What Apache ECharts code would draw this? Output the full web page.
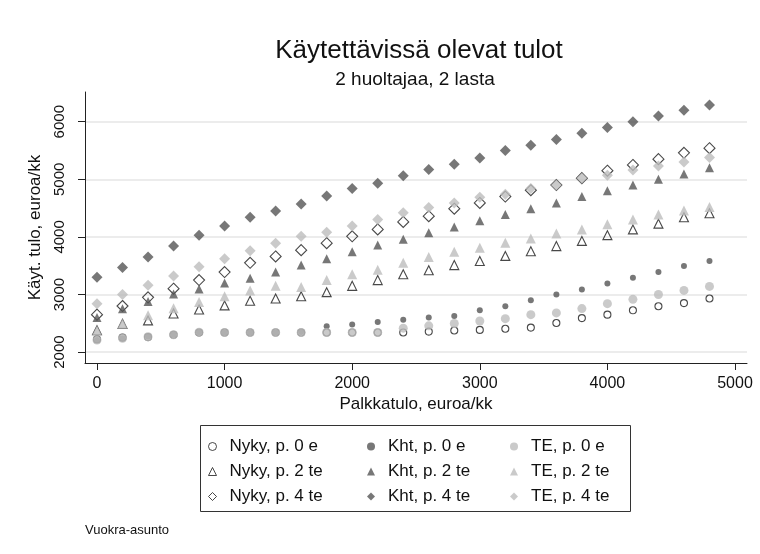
<!DOCTYPE html>
<html>
<head>
<meta charset="utf-8">
<title>Käytettävissä olevat tulot</title>
<script src="https://cdn.jsdelivr.net/npm/echarts@6/dist/echarts.min.js"></script>
<style>
  html, body { margin: 0; padding: 0; background: #fff; }
  #chart { width: 760px; height: 554px; }
</style>
</head>
<body>
<div id="chart"></div>
<script>
  // palkkatulo (x) ja käytettävissä olevat tulot eri tapauksissa
  const palkka = [0, 200, 400, 600, 800, 1000, 1200, 1400, 1600, 1800, 2000, 2200, 2400,
    2600, 2800, 3000, 3200, 3400, 3600, 3800, 4000, 4200, 4400, 4600, 4800];

  const nykyP0 = [2220, 2250, 2260, 2300, 2340, 2340, 2340, 2340, 2340, 2340, 2340, 2340, 2340,
    2355, 2375, 2385, 2405, 2425, 2505, 2590, 2650, 2725, 2795, 2850, 2930];
  const nykyP2 = [2380, 2490, 2550, 2670, 2740, 2810, 2890, 2930, 2970, 3040, 3150, 3250, 3350,
    3420, 3510, 3580, 3670, 3750, 3840, 3930, 4030, 4130, 4230, 4340, 4410];
  const nykyP4 = [2650, 2800, 2950, 3100, 3250, 3390, 3550, 3660, 3770, 3890, 4010, 4130, 4260,
    4360, 4490, 4590, 4700, 4810, 4900, 5020, 5150, 5250, 5350, 5460, 5540];

  const khtP0 = [2210, 2240, 2265, 2300, 2345, 2340, 2340, 2340, 2350, 2450, 2480, 2520, 2563,
    2600, 2625, 2725, 2795, 2900, 3000, 3085, 3190, 3290, 3390, 3495, 3580];
  const khtP2 = [2600, 2750, 2880, 3010, 3095, 3200, 3280, 3390, 3510, 3620, 3740, 3860, 3960,
    4070, 4170, 4280, 4390, 4490, 4590, 4700, 4800, 4900, 5000, 5090, 5200];
  const khtP4 = [3300, 3470, 3650, 3840, 4030, 4190, 4340, 4450, 4570, 4710, 4840, 4930, 5060,
    5170, 5260, 5370, 5500, 5590, 5690, 5800, 5900, 6000, 6100, 6200, 6290];

  const teP0 = [2210, 2240, 2265, 2300, 2345, 2340, 2340, 2340, 2340, 2340, 2340, 2340, 2415,
    2455, 2495, 2540, 2580, 2650, 2680, 2755, 2840, 2915, 3000, 3070, 3140];
  const teP2 = [2375, 2490, 2640, 2760, 2870, 2970, 3070, 3150, 3130, 3250, 3350, 3430, 3550,
    3650, 3740, 3810, 3900, 3970, 4060, 4130, 4220, 4300, 4390, 4460, 4520];
  const teP4 = [2840, 3000, 3160, 3320, 3480, 3620, 3760, 3890, 4010, 4080, 4190, 4300, 4420,
    4510, 4590, 4690, 4740, 4840, 4900, 5020, 5070, 5160, 5230, 5300, 5380];

  const xTicks = [0, 1000, 2000, 3000, 4000, 5000];
  const yTicks = [2000, 3000, 4000, 5000, 6000];

  const font = '"Liberation Sans", Arial, sans-serif';
  const ink = '#111';
  const dark = '#555555';
  const light = '#bdbdbd';

  const hollow = { color: 'rgba(0,0,0,0)', borderColor: '#1a1a1a', borderWidth: 1.1 };

  const pts = (vals) => palkka.map((x, i) => [x, vals[i]]);

  const makeSeries = (name, vals, symbol, size, itemStyle) => ({
    name: name,
    type: 'scatter',
    data: pts(vals),
    symbol: symbol,
    symbolSize: size,
    itemStyle: itemStyle,
    emphasis: { disabled: true },
    silent: true
  });

  const legendBase = {
    orient: 'vertical',
    top: 437,
    padding: 0,
    itemWidth: 8,
    itemHeight: 8,
    itemGap: 6,
    selectedMode: false,
    itemStyle: { borderWidth: 1 },
    textStyle: { fontSize: 17, color: ink, fontFamily: font, lineHeight: 19, padding: [0, 0, 0, 8] }
  };

  const myChart = echarts.init(document.getElementById('chart'));

  const option = {
    animation: false,
    backgroundColor: '#fff',
    title: [
      {
        text: 'Käytettävissä olevat tulot',
        left: 414, top: 33, textAlign: 'center',
        textStyle: { fontSize: 26, fontWeight: 'normal', color: ink, fontFamily: font }
      },
      {
        text: '2 huoltajaa, 2 lasta',
        left: 410, top: 65, textAlign: 'center',
        textStyle: { fontSize: 19, fontWeight: 'normal', color: ink, fontFamily: font }
      }
    ],
    grid: { left: 85, right: 13, top: 92, bottom: 191, containLabel: false },
    xAxis: {
      type: 'value',
      min: -94, max: 5094,
      name: 'Palkkatulo, euroa/kk',
      nameLocation: 'middle',
      nameGap: 33,
      nameTextStyle: { fontSize: 17, color: ink, fontFamily: font },
      axisLine: { show: true, onZero: false, lineStyle: { color: '#222', width: 1 } },
      axisTick: { show: true, length: 7, customValues: xTicks, lineStyle: { color: '#222' } },
      axisLabel: {
        customValues: xTicks, fontSize: 16, color: ink, fontFamily: font, margin: 13,
        formatter: (v) => String(v)
      },
      splitLine: { show: false }
    },
    yAxis: {
      type: 'value',
      min: 1810, max: 6516,
      name: 'Käyt. tulo, euroa/kk',
      nameLocation: 'middle',
      nameGap: 37,
      nameTextStyle: { fontSize: 17, color: ink, fontFamily: font },
      axisLine: { show: true, onZero: false, lineStyle: { color: '#222', width: 1 } },
      axisTick: { show: true, length: 7, customValues: yTicks, lineStyle: { color: '#222' } },
      axisLabel: {
        customValues: yTicks, rotate: 90, fontSize: 15, color: ink, fontFamily: font, margin: 18,
        formatter: (v) => String(v)
      },
      splitLine: { show: true, lineStyle: { color: '#e6e6e6', width: 1.5 } }
    },
    legend: [
      Object.assign({}, legendBase, { left: 208, data: ['Nyky, p. 0 e', 'Nyky, p. 2 te', 'Nyky, p. 4 te'] }),
      Object.assign({}, legendBase, { left: 367, data: ['Kht, p. 0 e', 'Kht, p. 2 te', 'Kht, p. 4 te'] }),
      Object.assign({}, legendBase, { left: 510, data: ['TE, p. 0 e', 'TE, p. 2 te', 'TE, p. 4 te'] })
    ],
    graphic: [
      {
        type: 'rect',
        shape: { x: 200.5, y: 425.5, width: 430, height: 86 },
        style: { fill: 'none', stroke: '#333', lineWidth: 1 },
        silent: true
      },
      {
        type: 'text',
        left: 85, top: 524,
        style: { text: 'Vuokra-asunto', fontSize: 13, fill: ink, fontFamily: font },
        silent: true
      }
    ],
    series: [
      makeSeries('Nyky, p. 0 e', nykyP0, 'circle', 7, hollow),
      makeSeries('Nyky, p. 2 te', nykyP2, 'triangle', 9, hollow),
      makeSeries('Nyky, p. 4 te', nykyP4, 'diamond', 11, hollow),
      makeSeries('Kht, p. 0 e', khtP0, 'circle', 6, { color: dark }),
      makeSeries('Kht, p. 2 te', khtP2, 'triangle', 9, { color: dark }),
      makeSeries('Kht, p. 4 te', khtP4, 'diamond', 11, { color: dark }),
      makeSeries('TE, p. 0 e', teP0, 'circle', 9, { color: light }),
      makeSeries('TE, p. 2 te', teP2, 'triangle', 10, { color: light }),
      makeSeries('TE, p. 4 te', teP4, 'diamond', 11, { color: light })
    ]
  };

  myChart.setOption(option);
</script>
</body>
</html>
